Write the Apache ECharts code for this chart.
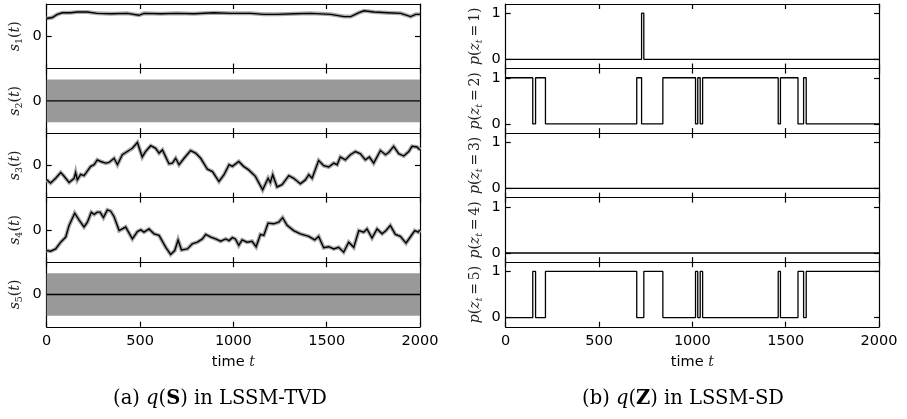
<!DOCTYPE html>
<html><head><meta charset="utf-8">
<script src="https://cdn.jsdelivr.net/npm/echarts@6/dist/echarts.min.js"></script>
<style>html,body{margin:0;padding:0;background:#fff}#c{width:907px;height:419px}</style>
</head><body><div id="c"></div>
<script>
// ---------- data ----------
const xTicks = [0, 500, 1000, 1500, 2000];
// (a) posterior means of s_k(t)  [t, value]  (y range of each panel is [-1, 1])
const s1 = [[0,0.55],[30,0.58],[57,0.68],[84,0.73],[128,0.73],[164,0.75],[218,0.75],[271,0.71],[343,0.70],[432,0.71],[494,0.65],[521,0.71],[611,0.70],[700,0.71],[789,0.70],[896,0.73],[986,0.71],[1093,0.71],[1164,0.68],[1236,0.68],[1325,0.70],[1414,0.71],[1521,0.68],[1593,0.61],[1629,0.61],[1673,0.73],[1700,0.79],[1754,0.75],[1825,0.73],[1897,0.71],[1950,0.61],[1977,0.68],[2000,0.68]];
const s2 = [[0,0],[2000,0]];
const s2Band = [[0,0.66],[2000,0.66]];
const s3 = [[0,-0.45],[21,-0.55],[48,-0.40],[75,-0.22],[91,-0.32],[120,-0.53],[147,-0.40],[155,-0.22],[164,-0.45],[182,-0.28],[200,-0.32],[236,-0.03],[254,0.02],[271,0.17],[289,0.12],[316,0.07],[334,0.09],[361,0.22],[379,0.02],[405,0.33],[432,0.43],[459,0.53],[486,0.71],[512,0.26],[530,0.43],[557,0.61],[584,0.53],[602,0.38],[620,0.48],[655,0.05],[673,0.07],[691,0.22],[709,0.02],[736,0.22],[771,0.46],[798,0.38],[825,0.22],[861,-0.12],[888,-0.19],[923,-0.50],[950,-0.29],[977,0.02],[995,-0.03],[1029,0.12],[1055,-0.03],[1082,-0.14],[1118,-0.34],[1157,-0.76],[1186,-0.40],[1198,-0.53],[1211,-0.29],[1234,-0.67],[1261,-0.60],[1297,-0.32],[1323,-0.40],[1359,-0.57],[1386,-0.45],[1404,-0.29],[1422,-0.40],[1457,0.15],[1484,-0.01],[1511,-0.05],[1538,0.07],[1556,0.02],[1573,0.26],[1600,0.17],[1627,0.33],[1654,0.43],[1681,0.36],[1707,0.17],[1729,0.26],[1752,0.07],[1788,0.46],[1815,0.33],[1832,0.40],[1859,0.59],[1886,0.36],[1913,0.29],[1940,0.43],[1957,0.59],[1984,0.57],[2000,0.48]];
const s4 = [[0,-0.64],[21,-0.66],[48,-0.59],[75,-0.38],[102,-0.22],[120,0.14],[150,0.52],[173,0.31],[200,0.09],[218,0.24],[239,0.55],[254,0.48],[271,0.55],[286,0.55],[304,0.38],[325,0.62],[343,0.58],[361,0.41],[388,-0.02],[405,0.03],[423,0.09],[459,-0.28],[486,-0.05],[504,0.00],[521,-0.07],[548,0.03],[575,-0.12],[602,-0.17],[638,-0.54],[664,-0.76],[686,-0.64],[704,-0.31],[722,-0.62],[754,-0.59],[780,-0.43],[807,-0.38],[834,-0.28],[852,-0.14],[879,-0.22],[905,-0.28],[932,-0.35],[959,-0.28],[977,-0.33],[995,-0.24],[1011,-0.28],[1029,-0.48],[1047,-0.31],[1073,-0.38],[1100,-0.35],[1122,-0.52],[1145,-0.14],[1163,-0.17],[1186,0.21],[1216,0.19],[1243,0.24],[1264,0.38],[1288,0.14],[1323,-0.02],[1359,-0.12],[1404,-0.20],[1436,-0.31],[1457,-0.20],[1484,-0.55],[1511,-0.52],[1538,-0.59],[1564,-0.54],[1591,-0.69],[1618,-0.38],[1645,-0.54],[1672,-0.02],[1698,-0.07],[1716,0.03],[1743,-0.25],[1770,0.03],[1797,-0.12],[1818,-0.02],[1841,0.14],[1868,-0.14],[1895,-0.20],[1925,-0.41],[1948,-0.22],[1972,-0.02],[1990,-0.07],[2000,0.00]];
const s5 = [[0,0],[2000,0]];
const s5Band = [[0,0.66],[2000,0.66]];
// (b) most probable regime z_t: [start time, state]
const zSegments = [[0,2],[145,5],[160,2],[213,5],[702,2],[728,1],[740,5],[842,2],[1017,5],[1029,2],[1042,5],[1055,2],[1460,5],[1472,2],[1566,5],[1596,2],[1610,5]];
const zStates = [1, 2, 3, 4, 5];
const T_END = 2000;

// ---------- layout ----------
const LX = 46.7, RX = 505.7, PW = 373.3, TOP = 4, PH = 64.55;
const serif = 'DejaVu Serif', sans = 'DejaVu Sans';
const FS = 14;
const richBase = {
  i: {fontFamily: serif, fontStyle: 'italic', fontSize: FS, color: '#222'},
  n: {fontFamily: serif, fontSize: FS, color: '#222'},
  sub: {fontFamily: serif, fontSize: 9.5, color: '#222', verticalAlign: 'bottom', lineHeight: 19},
  subi: {fontFamily: serif, fontStyle: 'italic', fontSize: 9.5, color: '#222', verticalAlign: 'bottom', lineHeight: 19},
  s: {fontFamily: sans, fontSize: 14.5, color: '#000'}
};

const grids = [], xAxes = [], yAxes = [], series = [];
function addPanel(left, row, yMin, yMax, yTickVals, yName, nameGap, showX, xName) {
  const g = grids.length;
  grids.push({left: left, top: TOP + row * PH, width: PW, height: PH, containLabel: false});
  const axLine = {show: true, onZero: false, lineStyle: {color: '#000', width: 1.2}};
  const tick = {show: true, inside: true, length: 5, lineStyle: {color: '#000', width: 1.2}};
  xAxes.push({gridIndex: g, type: 'value', min: 0, max: T_END, interval: 500, position: 'bottom',
    axisLine: axLine, axisTick: tick, splitLine: {show: false},
    axisLabel: {show: showX, color: '#000', fontFamily: sans, fontSize: 14.5, margin: 7, formatter: v => String(v)},
    name: showX ? xName : '', nameLocation: 'middle', nameGap: 28,
    nameTextStyle: {rich: richBase}});
  xAxes.push({gridIndex: g, type: 'value', min: 0, max: T_END, interval: 500, position: 'top',
    axisLine: axLine, axisTick: tick, splitLine: {show: false}, axisLabel: {show: false}});
  yAxes.push({gridIndex: g, type: 'value', min: yMin, max: yMax, position: 'left',
    axisLine: axLine, axisTick: Object.assign({customValues: yTickVals}, tick), splitLine: {show: false},
    axisLabel: {customValues: yTickVals, color: '#000', fontFamily: sans, fontSize: 14.5, margin: 5},
    name: yName, nameLocation: 'middle', nameRotate: 90, nameGap: nameGap,
    nameTextStyle: {rich: richBase}});
  yAxes.push({gridIndex: g, type: 'value', min: yMin, max: yMax, position: 'right',
    axisLine: axLine, axisTick: Object.assign({customValues: yTickVals}, tick), splitLine: {show: false},
    axisLabel: {show: false}});
  return g;
}
function line(g, data, opt) {
  series.push(Object.assign({type: 'line', xAxisIndex: 2 * g, yAxisIndex: 2 * g, data: data,
    showSymbol: false, symbol: 'none', silent: true, animation: false,
    lineStyle: {color: '#000', width: 1.5}}, opt || {}));
}

const xName = '{s|time }{i|t}';
const sSeries = [s1, s2, s3, s4, s5];
const sBands = [null, s2Band, null, null, s5Band];
sSeries.forEach((d, k) => {
  const g = addPanel(LX, k, -1, 1, [0], '{i|s}{sub|' + (k + 1) + '}{n|(}{i|t}{n|)}', 22, k === 4, xName);
  if (sBands[k]) {
    const band = sBands[k];
    line(g, band.map(p => [p[0], p[1]]), {lineStyle: {width: 0}, areaStyle: {color: '#999999', opacity: 1}});
    line(g, band.map(p => [p[0], -p[1]]), {lineStyle: {width: 0}, areaStyle: {color: '#999999', opacity: 1}});
  } else {
    line(g, d, {lineStyle: {color: '#a8a8a8', width: 4, join: 'miter'}});
  }
  line(g, d, {lineStyle: {color: '#000', width: 1.4, join: 'miter'}});
});

zStates.forEach((k, row) => {
  const g = addPanel(RX, row, -0.2, 1.2, [0, 1], '{i|p}{n|(}{i|z}{subi|t}{n|\u2009=\u2009' + k + ')}', 21, row === 4, xName);
  const d = zSegments.map(s => [s[0], s[1] === k ? 1 : 0]);
  d.push([T_END, d[d.length - 1][1]]);
  line(g, d, {step: 'end', lineStyle: {color: '#000', width: 1.3}});
});

const CFS = 19.5;
const capRich = {
  n: {fontFamily: serif, fontSize: CFS, color: '#000'},
  i: {fontFamily: serif, fontStyle: 'italic', fontSize: CFS, color: '#000'},
  b: {fontFamily: serif, fontWeight: 'bold', fontSize: CFS, color: '#000'}
};
const chart = echarts.init(document.getElementById('c'), null, {renderer: 'canvas'});
chart.setOption({
  animation: false,
  grid: grids, xAxis: xAxes, yAxis: yAxes, series: series,
  graphic: [
    {type: 'text', x: 220, y: 399, style: {text: '{n|(a) }{i|q}{n|(}{b|S}{n|) in LSSM-TVD}', rich: capRich, textAlign: 'center', textVerticalAlign: 'middle', align: 'center', verticalAlign: 'middle'}},
    {type: 'text', x: 683, y: 399, style: {text: '{n|(b) }{i|q}{n|(}{b|Z}{n|) in LSSM-SD}', rich: capRich, textAlign: 'center', textVerticalAlign: 'middle', align: 'center', verticalAlign: 'middle'}}
  ]
});
</script></body></html>
